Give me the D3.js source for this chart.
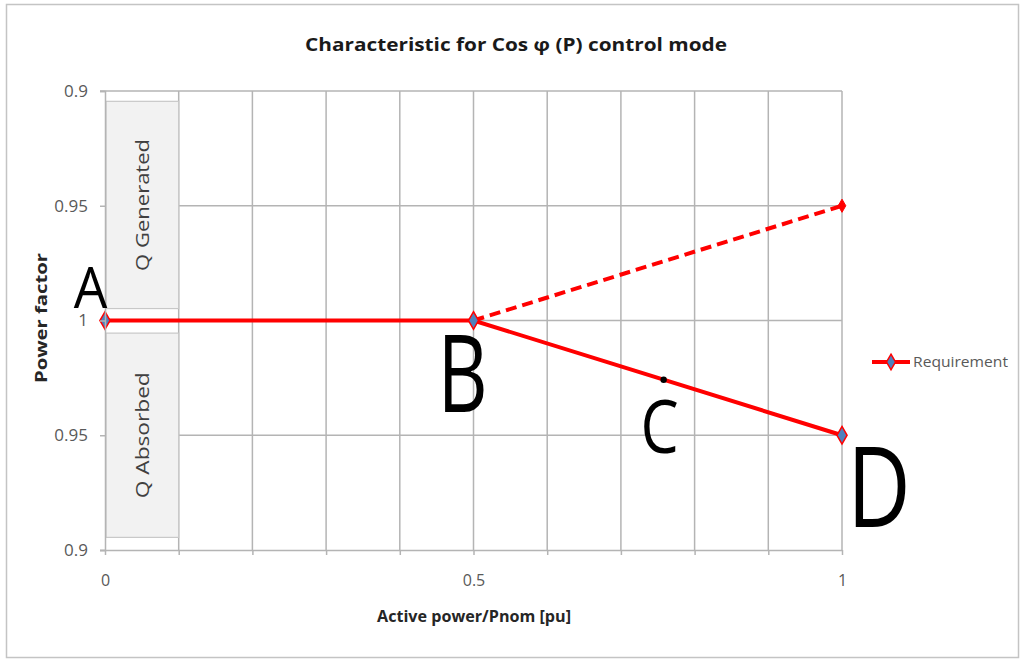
<!DOCTYPE html>
<html>
<head>
<meta charset="utf-8">
<script src="https://cdn.jsdelivr.net/npm/d3@7"></script>
<style>
  html, body { margin: 0; padding: 0; background: #fff; }
  svg { display: block; }
</style>
</head>
<body>
<svg id="chart" width="1020" height="660"></svg>
<script>
// Power-factor axis is drawn as a signed deviation from cos φ = 1:
// positive = Q generated (upper half), negative = Q absorbed (lower half).
const yTickValues = [0.1, 0.05, 0, -0.05, -0.1];
const yTickLabels = ["0.9", "0.95", "1", "0.95", "0.9"];
const xTickValues = [0, 0.1, 0.2, 0.3, 0.4, 0.5, 0.6, 0.7, 0.8, 0.9, 1];
const xTickLabels = ["0", "", "", "", "", "0.5", "", "", "", "", "1"];

// Requirement curve (solid) and the alternative branch (dashed)
const requirementP = [0, 0.5, 1];
const requirementQ = [0, 0, -0.05];
const altP = [0.5, 1];
const altQ = [0, 0.05];

// Lettered points
const pointNames = ["A", "B", "C", "D"];
const pointP = [0, 0.5, 0.758, 1];
const pointQ = [0, 0, -0.0258, -0.05];

const svg = d3.select("#chart");
const x = d3.scaleLinear().domain([0, 1]).range([105, 842]);
const y = d3.scaleLinear().domain([-0.1, 0.1]).range([550, 91]);

const gridColor = "#b4b4b4";
const labelColor = "#595959";
const red = "#ff0000";
const font = "'Open Sans', sans-serif";

// outer chart frame
svg.append("rect")
  .attr("x", 6.5).attr("y", 4.5).attr("width", 1012).attr("height", 653)
  .attr("fill", "#fff").attr("stroke", "#c4c4c4").attr("stroke-width", 1.5);

// title
svg.append("text")
  .attr("x", 516).attr("y", 51)
  .attr("text-anchor", "middle")
  .attr("font-family", font)
  .attr("font-weight", "bold")
  .attr("font-size", 18)
  .attr("textLength", 422).attr("lengthAdjust", "spacingAndGlyphs")
  .attr("fill", "#1a1a1a")
  .text("Characteristic for Cos φ (P) control mode");

const plot = svg.append("g");

// vertical gridlines
plot.selectAll("line.vgrid")
  .data(xTickValues.filter(v => v > 0))
  .join("line")
  .attr("x1", d => x(d)).attr("x2", d => x(d))
  .attr("y1", y(0.1)).attr("y2", y(-0.1))
  .attr("stroke", gridColor).attr("stroke-width", 1.5);

// horizontal gridlines (start after the Q-region boxes)
plot.selectAll("line.hgrid")
  .data(yTickValues.filter(v => v !== 0.1 && v !== -0.1))
  .join("line")
  .attr("x1", x(0.1)).attr("x2", x(1))
  .attr("y1", d => y(d)).attr("y2", d => y(d))
  .attr("stroke", gridColor).attr("stroke-width", 1.5);

// top line
plot.append("line")
  .attr("x1", x(0) - 5).attr("x2", x(1))
  .attr("y1", y(0.1)).attr("y2", y(0.1))
  .attr("stroke", gridColor).attr("stroke-width", 1.5);

// Q region boxes
const boxes = [
  { label: "Q Generated", top: 0.0955, bottom: 0.0052, len: 132 },
  { label: "Q  Absorbed", top: -0.0055, bottom: -0.0945, len: 126 }
];
boxes.forEach(b => {
  plot.append("rect")
    .attr("x", x(0) + 1).attr("y", y(b.top))
    .attr("width", x(0.1) - x(0) - 1).attr("height", y(b.bottom) - y(b.top))
    .attr("fill", "#f2f2f2").attr("stroke", "#c8c8c8").attr("stroke-width", 1.2);
  const cy = (y(b.top) + y(b.bottom)) / 2;
  plot.append("text")
    .attr("transform", `translate(${(x(0) + x(0.1)) / 2 + 7},${cy}) rotate(-90)`)
    .attr("text-anchor", "middle")
    .attr("font-family", font)
    .attr("font-size", 18)
    .attr("textLength", b.len).attr("lengthAdjust", "spacingAndGlyphs")
    .attr("fill", "#404040")
    .text(b.label);
});

// y axis
const yAxis = d3.axisLeft(y)
  .tickValues(yTickValues)
  .tickFormat((d, i) => yTickLabels[i])
  .tickSize(5).tickPadding(12);
const gy = svg.append("g").attr("transform", `translate(${x(0)},0)`).call(yAxis);
gy.select(".domain").attr("stroke", gridColor).attr("stroke-width", 1.5);
gy.selectAll(".tick line").attr("stroke", gridColor).attr("stroke-width", 1.5);
gy.selectAll(".tick text")
  .attr("font-family", font).attr("font-size", 17)
  .attr("fill", labelColor);

// x axis
const xAxis = d3.axisBottom(x)
  .tickValues(xTickValues)
  .tickFormat((d, i) => xTickLabels[i])
  .tickSize(5).tickPadding(20);
const gx = svg.append("g").attr("transform", `translate(0,${y(-0.1)})`).call(xAxis);
gx.select(".domain").attr("d", `M${x(0) - 5},0.5H${x(1)}`)
  .attr("stroke", gridColor).attr("stroke-width", 1.5);
gx.selectAll(".tick line").attr("stroke", gridColor).attr("stroke-width", 1.5);
gx.selectAll(".tick text")
  .attr("font-family", font).attr("font-size", 16)
  .attr("fill", labelColor);

// axis titles
svg.append("text")
  .attr("transform", `translate(47,318) rotate(-90)`)
  .attr("text-anchor", "middle")
  .attr("font-family", font)
  .attr("font-weight", "bold").attr("font-size", 16)
  .attr("textLength", 130).attr("lengthAdjust", "spacingAndGlyphs")
  .attr("fill", "#262626")
  .text("Power factor");
svg.append("text")
  .attr("x", 474).attr("y", 622)
  .attr("text-anchor", "middle")
  .attr("font-family", font)
  .attr("font-weight", "bold").attr("font-size", 16)
  .attr("textLength", 194).attr("lengthAdjust", "spacingAndGlyphs")
  .attr("fill", "#262626")
  .text("Active power/Pnom [pu]");

// lines
const line = d3.line().x(d => x(d[0])).y(d => y(d[1]));
const altData = altP.map((p, i) => [p, altQ[i]]);
const reqData = requirementP.map((p, i) => [p, requirementQ[i]]);

plot.append("path")
  .datum(altData)
  .attr("d", line)
  .attr("fill", "none").attr("stroke", red).attr("stroke-width", 4)
  .attr("stroke-dasharray", "11,6");
plot.append("path")
  .datum(reqData)
  .attr("d", line)
  .attr("fill", "none").attr("stroke", red).attr("stroke-width", 4);

// markers
const diamond = d3.symbol().type(d3.symbolDiamond).size(90);
plot.selectAll("path.mk")
  .data(reqData)
  .join("path")
  .attr("transform", d => `translate(${x(d[0])},${y(d[1])})`)
  .attr("d", diamond)
  .attr("fill", "#4f81bd").attr("stroke", red).attr("stroke-width", 1.5);
plot.append("path")
  .attr("transform", `translate(${x(altData[1][0])},${y(altData[1][1])})`)
  .attr("d", d3.symbol().type(d3.symbolDiamond).size(50))
  .attr("fill", red).attr("stroke", red).attr("stroke-width", 1);

// lettered point labels (centre offset, baseline offset, size, horizontal squeeze)
const letterStyle = [
  { dx: -14.5, dy: -13, size: 56, sx: 0.95 },
  { dx: -11, dy: 91, size: 108, sx: 0.72 },
  { dx: -4, dy: 73, size: 74, sx: 0.82 },
  { dx: 37, dy: 92, size: 112, sx: 0.78 }
];
pointNames.forEach((n, i) => {
  const px = x(pointP[i]), py = y(pointQ[i]);
  const s = letterStyle[i];
  svg.append("text")
    .attr("transform", `translate(${px + s.dx},${py + s.dy}) scale(${s.sx},1)`)
    .attr("text-anchor", "middle")
    .attr("font-family", font)
    .attr("font-size", s.size)
    .attr("fill", "#000")
    .text(n);
});
// dot marking point C on the curve
svg.append("circle")
  .attr("cx", x(pointP[2])).attr("cy", y(pointQ[2]))
  .attr("r", 3.2).attr("fill", "#000");

// legend
const lg = svg.append("g").attr("transform", "translate(872,362)");
lg.append("line").attr("x1", 0).attr("x2", 38).attr("y1", 0).attr("y2", 0)
  .attr("stroke", red).attr("stroke-width", 4);
lg.append("path").attr("transform", "translate(19,0)")
  .attr("d", d3.symbol().type(d3.symbolDiamond).size(70))
  .attr("fill", "#4f81bd").attr("stroke", red).attr("stroke-width", 1.5);
lg.append("text").attr("x", 41).attr("y", 5)
  .attr("font-family", font).attr("font-size", 15)
  .attr("textLength", 95).attr("lengthAdjust", "spacingAndGlyphs")
  .attr("fill", labelColor)
  .text("Requirement");
</script>
</body>
</html>
